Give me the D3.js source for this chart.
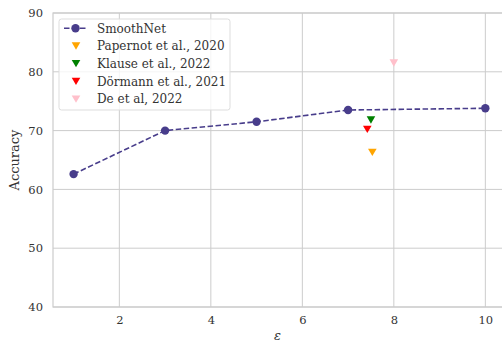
<!DOCTYPE html>
<html><head><meta charset="utf-8">
<script src="https://cdn.jsdelivr.net/npm/d3@7"></script>
<style>
html,body{margin:0;padding:0;background:#fff;}
svg{display:block;font-family:"DejaVu Serif",serif;}
</style></head>
<body>
<svg id="chart" width="502" height="345"></svg>
<script>
const epsilons = [1, 3, 5, 7, 10];
const smoothNetAcc = [62.6, 70.0, 71.5, 73.5, 73.8];
const baselineNames = ["Papernot et al., 2020", "Klause et al., 2022", "Dörmann et al., 2021", "De et al, 2022"];
const baselineEps = [7.53, 7.5, 7.42, 8.0];
const baselineAcc = [66.3, 71.8, 70.2, 81.5];
const baselineColors = ["orange", "green", "red", "pink"];
const xTicks = [2, 4, 6, 8, 10];
const yTicks = [40, 50, 60, 70, 80, 90];

const svg = d3.select("#chart");
const mLeft = 53, mTop = 13, mBottom = 307;
const x = d3.scaleLinear().domain([0.55, 10.45]).range([mLeft, mLeft + (10.45-0.55)*45.75]);
const y = d3.scaleLinear().domain([40, 90]).range([mBottom, mTop]);
const mRight = x(10.45);
const grid = "#cccccc", txt = "#333333", lineCol = "#483d8b";

// grid
svg.append("g").selectAll("line").data(xTicks).join("line")
  .attr("x1", d=>x(d)).attr("x2", d=>x(d)).attr("y1", mTop).attr("y2", mBottom)
  .attr("stroke", grid).attr("stroke-width", 1);
svg.append("g").selectAll("line").data(yTicks).join("line")
  .attr("x1", mLeft).attr("x2", mRight).attr("y1", d=>y(d)).attr("y2", d=>y(d))
  .attr("stroke", grid).attr("stroke-width", 1);
// frame
svg.append("rect").attr("x", mLeft).attr("y", mTop).attr("width", mRight-mLeft).attr("height", mBottom-mTop)
  .attr("fill", "none").attr("stroke", grid).attr("stroke-width", 1.2);

// axes via d3 axis
const xAxis = svg.append("g").attr("transform", `translate(0,${mBottom})`)
  .call(d3.axisBottom(x).tickValues(xTicks).tickSize(0).tickPadding(9));
xAxis.select(".domain").remove();
xAxis.selectAll("text").attr("font-family", "DejaVu Serif").attr("font-size", 11.5).attr("fill", txt);
const yAxis = svg.append("g").attr("transform", `translate(${mLeft},0)`)
  .call(d3.axisLeft(y).tickValues(yTicks).tickSize(0).tickPadding(10));
yAxis.select(".domain").remove();
yAxis.selectAll("text").attr("font-family", "DejaVu Serif").attr("font-size", 11.5).attr("fill", txt);

// labels
svg.append("text").attr("x", (mLeft + mRight)/2 - 2).attr("y", 340).attr("text-anchor", "middle")
  .attr("font-size", 13).attr("font-style", "italic").attr("fill", txt).text("ε");
svg.append("text").attr("transform", `translate(19,${(mTop+mBottom)/2}) rotate(-90)`)
  .attr("text-anchor", "middle").attr("font-size", 13).attr("fill", txt).text("Accuracy");

// SmoothNet line
const pts = epsilons.map((e,i)=>[e, smoothNetAcc[i]]);
svg.append("path").datum(pts)
  .attr("d", d3.line().x(d=>x(d[0])).y(d=>y(d[1])))
  .attr("fill", "none").attr("stroke", lineCol).attr("stroke-width", 1.6).attr("stroke-dasharray", "5.5,2.5");
svg.append("g").selectAll("circle").data(pts).join("circle")
  .attr("cx", d=>x(d[0])).attr("cy", d=>y(d[1])).attr("r", 4.2).attr("fill", lineCol);

// triangle-down symbol
const tri = (cx, cy, s) => `M${cx-s},${cy-s*0.85}L${cx+s},${cy-s*0.85}L${cx},${cy+s*0.85}Z`;
svg.append("g").selectAll("path").data(baselineNames).join("path")
  .attr("d", (d,i)=>tri(x(baselineEps[i]), y(baselineAcc[i]), 4.3))
  .attr("fill", (d,i)=>baselineColors[i]);

// legend
const lg = svg.append("g");
lg.append("rect").attr("x", 59).attr("y", 19).attr("width", 171).attr("height", 91).attr("rx", 2.5)
  .attr("fill", "rgba(255,255,255,0.8)").attr("stroke", "#dddddd").attr("stroke-width", 1);
const rowY = [28.3, 46, 63.7, 81.4, 99.1];
lg.append("line").attr("x1", 64).attr("x2", 87).attr("y1", rowY[0]).attr("y2", rowY[0])
  .attr("stroke", lineCol).attr("stroke-width", 1.6).attr("stroke-dasharray", "5.5,2.5");
lg.append("circle").attr("cx", 75.5).attr("cy", rowY[0]).attr("r", 4.2).attr("fill", lineCol);
lg.append("text").attr("x", 97).attr("y", rowY[0]).attr("dy", "0.35em").attr("font-size", 12).attr("fill", txt).text("SmoothNet");
baselineNames.forEach((n,i)=>{
  lg.append("path").attr("d", tri(76, rowY[i+1], 4.3)).attr("fill", baselineColors[i]);
  lg.append("text").attr("x", 97).attr("y", rowY[i+1]).attr("dy", "0.35em").attr("font-size", 12).attr("fill", txt).text(n);
});
</script>
</body></html>
